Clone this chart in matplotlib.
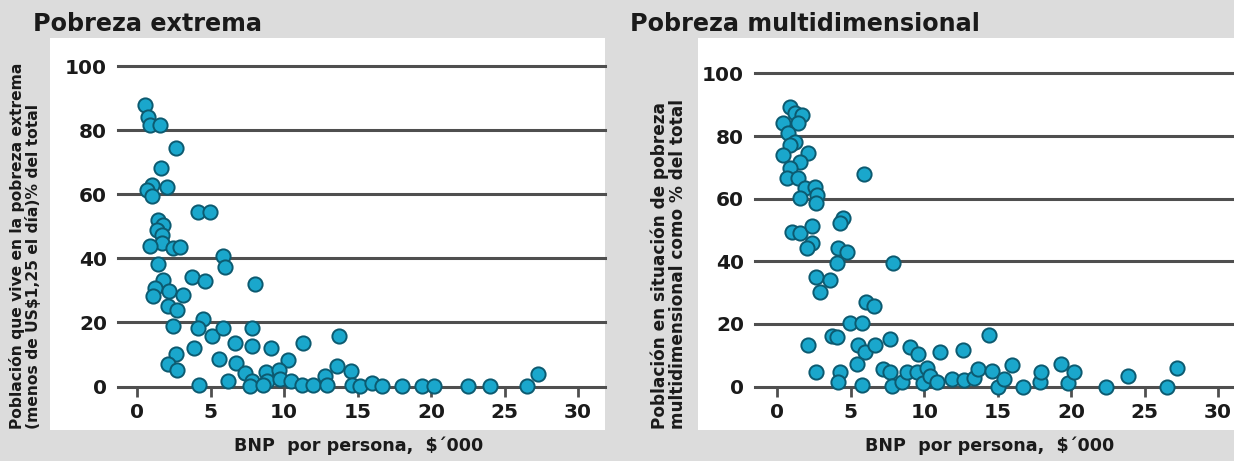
import matplotlib
matplotlib.use("Agg")
import matplotlib.pyplot as plt
from matplotlib.patches import Rectangle

# ---------------- data ----------------
titles = ["Pobreza extrema", "Pobreza multidimensional"]
ylabels = ["Población que vive en la pobreza extrema\n(menos de US$1,25 el día)% del total",
           "Población en situación de pobreza\nmultidimensional como % del total"]
xlabel = "BNP  por persona,  $\u00b4000"
xticks = [0, 5, 10, 15, 20, 25, 30]
yticks = [0, 20, 40, 60, 80, 100]

extreme_x = [0.54, 0.77, 0.88, 1.56, 2.65, 1.63, 1.0, 0.66, 1.0, 2.02, 4.17, 4.97, 1.45, 1.79,
             1.34, 1.68, 1.68, 0.88, 2.43, 2.93, 1.45, 1.79, 3.72, 4.63, 5.87, 5.99, 8.03, 1.22,
             1.11, 2.2, 3.1, 2.13, 2.74, 2.47, 4.47, 4.17, 5.08, 5.83, 7.8, 3.9, 6.67, 7.8, 9.1,
             11.27, 13.76, 5.6, 6.73, 2.65, 2.13, 2.74, 10.3, 13.58, 14.54, 4.24, 6.17, 7.35, 7.8,
             7.69, 8.78, 9.68, 8.82, 8.6, 9.73, 10.45, 11.2, 12.0, 12.8, 12.9, 14.6, 15.2, 16.0,
             16.7, 18.0, 19.4, 20.2, 22.5, 24.0, 26.5, 27.3]
extreme_y = [87.9, 84.2, 81.6, 81.6, 74.3, 68.1, 62.9, 61.4, 59.3, 62.2, 54.3, 54.3, 52.0, 50.5,
             48.9, 47.4, 44.8, 43.7, 43.2, 43.5, 38.2, 33.3, 34.1, 32.8, 40.6, 37.3, 32.1, 30.7,
             28.3, 29.7, 28.7, 25.0, 24.0, 18.8, 21.1, 18.3, 15.7, 18.3, 18.3, 12.0, 13.6, 12.6, 12.0,
             13.6, 15.7, 8.6, 7.4, 10.0, 6.9, 5.1, 8.4, 6.3, 4.8, 0.6, 1.7, 4.3, 1.7,
             0.3, 4.5, 5.3, 1.7, 0.6, 2.2, 1.7, 0.6, 0.6, 3.4, 0.6, 0.6, 0.3, 1.2,
             0.3, 0.3, 0.3, 0.3, 0.3, 0.3, 0.3, 4.0]

multi_x = [0.87, 1.2, 1.66, 0.41, 1.43, 0.75, 1.2, 0.87, 0.37, 2.11, 1.55, 0.87, 0.64, 1.43,
           1.89, 2.57, 2.72, 1.55, 2.63, 5.9, 4.5, 4.27, 0.98, 1.55, 2.34, 2.34, 2.0, 4.16,
           4.77, 4.09, 7.9, 2.63, 3.59, 2.91, 6.04, 6.61, 4.95, 5.75, 14.4, 3.7, 4.05, 7.68,
           2.07, 5.52, 5.97, 6.66, 9.04, 9.61, 11.08, 12.63, 5.41, 2.63, 4.27, 4.16, 5.75, 7.22,
           7.68, 7.79, 8.47, 8.82, 9.5, 9.95, 10.18, 10.4, 10.85, 11.9, 12.7, 13.4, 13.66, 14.6,
           15.0, 15.4, 15.95, 16.7, 17.9, 17.96, 19.3, 19.8, 20.2, 22.4, 23.9, 26.5, 27.2]
multi_y = [89.4, 87.3, 86.7, 84.1, 84.1, 80.9, 78.2, 77.1, 73.9, 74.7, 71.8, 69.7, 66.5, 66.5,
           63.3, 63.8, 61.1, 60.1, 58.5, 67.8, 53.7, 52.1, 49.4, 48.9, 51.2, 45.7, 44.1, 44.1,
           43.0, 39.5, 39.5, 35.0, 33.9, 30.2, 27.0, 25.6, 20.3, 20.3, 16.3, 16.0, 15.8, 15.2,
           13.1, 13.1, 11.0, 13.1, 12.6, 10.5, 11.0, 11.7, 7.3, 4.6, 4.6, 1.4, 0.6, 5.5,
           4.5, 0.3, 1.4, 4.6, 4.5, 1.0, 5.9, 3.3, 1.5, 2.4, 2.0, 2.8, 5.6, 5.1,
           0.0, 2.4, 7.0, 0.0, 1.5, 4.6, 7.3, 1.2, 4.6, 0.0, 3.2, 0.0, 5.8]

# ---------------- style ----------------
W, H = 1234, 461
BG = "#dcdcdc"
GRID = "#4f4f4f"
FACE = "#1aa7cc"
EDGE = "#0c5a70"
TXT = "#1a1a1a"

fig = plt.figure(figsize=(W / 100, H / 100), dpi=100)
fig.patch.set_facecolor(BG)


def fx(px):
    return px / W


def fy(py):
    return 1 - py / H


panels = [
    dict(box=(50, 38, 605, 430), grid=(118, 605), x0=137.0, x30=578.0, y0=386.5, y100=66.0,
         title_x=33, ylab_x=41, ylab_fs=11.2, xlab_x=359),
    dict(box=(698, 38, 1234, 430), grid=(755, 1234), x0=777.3, x30=1218.0, y0=386.5, y100=73.5,
         title_x=630, ylab_x=687, ylab_fs=12.2, xlab_x=990),
]
datasets = [(extreme_x, extreme_y), (multi_x, multi_y)]

for i, p in enumerate(panels):
    bx0, by0, bx1, by1 = p["box"]
    fig.patches.append(Rectangle((fx(bx0), fy(by1)), fx(bx1 - bx0), (by1 - by0) / H,
                                 transform=fig.transFigure, facecolor="white",
                                 edgecolor="none", zorder=-5))
    gx0, gx1 = p["grid"]
    ax = fig.add_axes([fx(gx0), fy(p["y0"]), fx(gx1 - gx0), (p["y0"] - p["y100"]) / H])
    ax.set_zorder(2)
    ax.set_facecolor("none")
    ppu = (p["x30"] - p["x0"]) / 30.0
    ax.set_xlim((gx0 - p["x0"]) / ppu, (gx1 - p["x0"]) / ppu)
    ax.set_ylim(0, 100)
    for s in ax.spines.values():
        s.set_visible(False)
    ax.set_yticks(yticks)
    ax.set_xticks(xticks)
    ax.set_yticklabels([str(v) for v in yticks])
    ax.set_xticklabels([str(v) for v in xticks])
    ax.tick_params(axis="y", length=0, pad=8, labelsize=14.5, labelcolor=TXT)
    ax.tick_params(axis="x", length=7, width=2, color=GRID, direction="out", pad=5,
                   labelsize=14.5, labelcolor=TXT)
    for lab in ax.get_xticklabels() + ax.get_yticklabels():
        lab.set_fontweight("semibold")
    ax.grid(axis="y", color=GRID, linewidth=2.2, zorder=1)
    for gl in ax.get_ygridlines():
        gl.set_clip_on(False)
    ax.set_axisbelow(True)
    xs, ys = datasets[i]
    ax.scatter(xs, ys, s=105, facecolor=FACE, edgecolor=EDGE, linewidth=1.4,
               zorder=3, clip_on=False)

    fig.text(fx(p["title_x"]), fy(24), titles[i], fontsize=17.2, fontweight="bold",
             color=TXT, ha="left", va="center")
    fig.text(fx(p["ylab_x"]), fy(429), ylabels[i], rotation=90, fontsize=p["ylab_fs"],
             fontweight="bold", color=TXT, ha="right", va="bottom",
             multialignment="left", linespacing=1.0)
    fig.text(fx(p["xlab_x"]), fy(446), xlabel, fontsize=12.6, fontweight="bold",
             color=TXT, ha="center", va="center")

fig.savefig("out.png", dpi=100, facecolor=BG)
